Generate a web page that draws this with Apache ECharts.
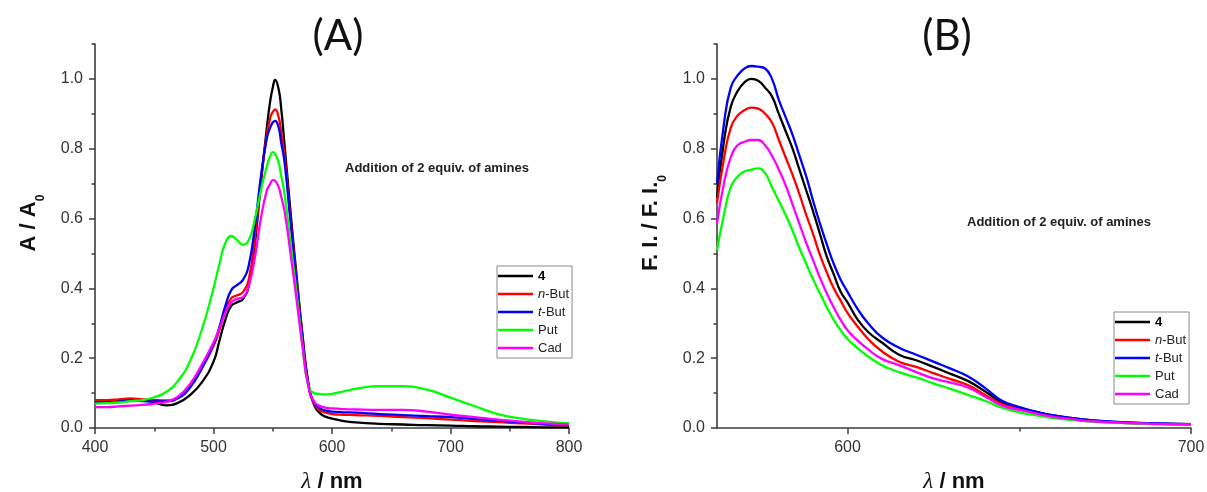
<!DOCTYPE html>
<html><head><meta charset="utf-8">
<script src="https://cdn.jsdelivr.net/npm/echarts@6/dist/echarts.min.js"></script>
<style>html,body{margin:0;padding:0;background:#fff}#c{width:1207px;height:492px}</style>
</head><body><div id="c"></div>
<script>
// ---- Panel A: absorbance (A / A0) ----
const wlA = [400,410,420,430,440,450,460,470,480,490,500,505,510,515,520,525,530,535,540,545,548,550,552,555,557,560,565,570,575,580,585,590,595,600,610,620,640,660,680,700,720,740,760,780,800];
const a4    = [0.075,0.077,0.079,0.082,0.080,0.073,0.065,0.072,0.094,0.13,0.19,0.25,0.31,0.35,0.36,0.37,0.41,0.53,0.70,0.86,0.94,0.975,0.997,0.97,0.92,0.81,0.62,0.44,0.27,0.13,0.065,0.042,0.032,0.027,0.02,0.016,0.012,0.01,0.008,0.007,0.005,0.004,0.003,0.002,0.002];
const aNBut = [0.08,0.08,0.082,0.085,0.082,0.08,0.079,0.088,0.12,0.17,0.235,0.28,0.335,0.372,0.38,0.39,0.43,0.55,0.71,0.84,0.89,0.905,0.913,0.89,0.85,0.78,0.60,0.43,0.265,0.125,0.068,0.05,0.044,0.04,0.038,0.037,0.035,0.031,0.028,0.024,0.02,0.017,0.013,0.01,0.008];
const aTBut = [0.072,0.073,0.075,0.078,0.077,0.076,0.076,0.085,0.115,0.17,0.24,0.29,0.35,0.395,0.41,0.425,0.47,0.58,0.72,0.83,0.862,0.875,0.88,0.86,0.82,0.76,0.59,0.42,0.26,0.125,0.072,0.056,0.05,0.047,0.045,0.044,0.04,0.037,0.034,0.031,0.026,0.021,0.016,0.011,0.008];
const aPut  = [0.07,0.071,0.073,0.077,0.08,0.088,0.103,0.135,0.19,0.28,0.40,0.47,0.53,0.55,0.538,0.525,0.54,0.60,0.68,0.75,0.78,0.79,0.785,0.76,0.725,0.67,0.53,0.39,0.24,0.12,0.10,0.097,0.096,0.098,0.105,0.112,0.12,0.12,0.11,0.087,0.063,0.04,0.027,0.019,0.013];
const aCad  = [0.06,0.06,0.062,0.064,0.066,0.07,0.075,0.09,0.125,0.18,0.245,0.285,0.33,0.36,0.37,0.375,0.41,0.49,0.60,0.68,0.70,0.71,0.708,0.69,0.665,0.62,0.50,0.37,0.235,0.12,0.075,0.063,0.058,0.056,0.054,0.053,0.052,0.052,0.047,0.038,0.031,0.024,0.018,0.013,0.01];

// ---- Panel B: fluorescence (F. I. / F. I.0) ----
const wlB = [562,564,566,568,570,572,574,576,578,580,582,584,586,588,590,592,594,596,598,600,603,606,610,615,620,625,630,635,640,645,650,655,660,665,670,680,690,700];
const f4    = [0.66,0.82,0.92,0.965,0.99,1.0,0.995,0.975,0.95,0.90,0.85,0.80,0.74,0.68,0.62,0.555,0.49,0.44,0.39,0.36,0.31,0.275,0.245,0.21,0.194,0.175,0.155,0.135,0.105,0.073,0.058,0.046,0.036,0.029,0.023,0.016,0.013,0.011];
const fNBut = [0.645,0.77,0.86,0.895,0.91,0.918,0.915,0.90,0.875,0.825,0.775,0.725,0.67,0.61,0.555,0.495,0.445,0.40,0.365,0.33,0.29,0.255,0.22,0.19,0.175,0.157,0.14,0.123,0.095,0.068,0.055,0.043,0.034,0.027,0.021,0.015,0.012,0.01];
const fTBut = [0.70,0.87,0.975,1.01,1.03,1.037,1.035,1.03,1.0,0.94,0.89,0.84,0.78,0.72,0.65,0.585,0.525,0.47,0.425,0.39,0.34,0.30,0.26,0.23,0.21,0.19,0.17,0.148,0.115,0.078,0.06,0.046,0.036,0.029,0.023,0.017,0.013,0.011];
const fPut  = [0.51,0.61,0.69,0.72,0.735,0.74,0.744,0.73,0.69,0.65,0.61,0.565,0.515,0.47,0.425,0.385,0.345,0.31,0.28,0.255,0.228,0.205,0.18,0.16,0.145,0.128,0.112,0.095,0.078,0.058,0.045,0.036,0.028,0.023,0.019,0.014,0.011,0.009];
const fCad  = [0.585,0.70,0.775,0.81,0.82,0.825,0.825,0.81,0.78,0.74,0.695,0.64,0.585,0.53,0.48,0.43,0.385,0.345,0.31,0.28,0.25,0.225,0.198,0.18,0.16,0.142,0.13,0.116,0.09,0.064,0.052,0.041,0.032,0.026,0.02,0.015,0.012,0.01];

const seriesNames = ['4','n-But','t-But','Put','Cad'];
const seriesColors = ['#000000','#ff0000','#0000ff','#00ff00','#ff00ff'];
const dataA = [a4,aNBut,aTBut,aPut,aCad];
const dataB = [f4,fNBut,fTBut,fPut,fCad];

const yMajor = [0,0.2,0.4,0.6,0.8,1.0];
const yMinor = [0.1,0.3,0.5,0.7,0.9,1.1];
const xbMajor = [600,700];
const xbMinor = [650];
const annotation = 'Addition of 2 equiv. of amines';

const FONT = '"Liberation Sans", Arial, sans-serif';
const AXC = '#3c3c3c';
const pairs = (x, y) => x.map((v, i) => [v, y[i]]);

const axisLineS = {lineStyle:{color:AXC, width:1.6}};
const labelS = {fontSize:16, color:'#333', fontFamily:FONT};
const nameRichX = {
  l:{fontSize:23, fontStyle:'italic', fontFamily:'"Liberation Serif", serif', color:'#111'},
  n:{fontSize:22, fontWeight:'bold', fontFamily:FONT, color:'#111'}
};
const nameRichY = {
  m:{fontSize:22, fontWeight:'bold', fontFamily:FONT, color:'#111', lineHeight:22, verticalAlign:'top'},
  s:{fontSize:12, fontWeight:'bold', fontFamily:FONT, color:'#111', lineHeight:12, verticalAlign:'top', padding:[17,0,0,0]}
};

function mainY(grid, name){
  return {gridIndex:grid, type:'value', position:'left', min:0, max:1.1,
    axisLine:{show:true, ...axisLineS}, splitLine:{show:false},
    axisTick:{show:true, length:6, customValues:yMajor, lineStyle:{color:AXC, width:1.5}},
    axisLabel:{...labelS, margin:12, customValues:yMajor, formatter:v=>v.toFixed(1)},
    name:name, nameLocation:'middle', nameRotate:90, nameGap:55,
    nameTextStyle:{rich:nameRichY, padding:[0,0,0,26]}};
}
function minorY(grid){
  return {gridIndex:grid, type:'value', position:'left', min:0, max:1.1,
    axisLine:{show:false}, splitLine:{show:false}, axisLabel:{show:false},
    axisTick:{show:true, length:3.5, customValues:yMinor, lineStyle:{color:AXC, width:1.5}}};
}
const xName = '{l|λ}{n| / nm}';

const legendCommon = {
  orient:'vertical', icon:'rect', itemWidth:35, itemHeight:2.5, itemGap:4,
  padding:[3,3,3,1], borderColor:'#8a8a8a', borderWidth:1, backgroundColor:'#fff',
  selectedMode:false, data:seriesNames,
  formatter: n => n==='4' ? '{b|4}' : n==='n-But' ? '{i|n}-But' : n==='t-But' ? '{i|t}-But' : n,
  textStyle:{fontSize:13, color:'#222', fontFamily:FONT, lineHeight:14,
    rich:{b:{fontSize:13, fontWeight:'bold', color:'#000', fontFamily:FONT},
          i:{fontSize:13, fontStyle:'italic', color:'#222', fontFamily:FONT}}}
};

const series = [];
seriesNames.forEach((n, i) => {
  const common = {type:'line', name:n, showSymbol:false, symbol:'none', smooth:0.5,
    color:seriesColors[i], itemStyle:{color:seriesColors[i]},
    lineStyle:{color:seriesColors[i], width:2.3}, silent:true};
  series.push({...common, xAxisIndex:0, yAxisIndex:0, data:pairs(wlA, dataA[i])});
  series.push({...common, xAxisIndex:1, yAxisIndex:2, data:pairs(wlB, dataB[i])});
});

const option = {
  animation:false,
  backgroundColor:'#fff',
  grid:[{left:95, top:44, width:474, height:384, outerBoundsMode:'none', containLabel:false},
        {left:717, top:44, width:474, height:384, outerBoundsMode:'none', containLabel:false}],
  xAxis:[
    {gridIndex:0, type:'value', position:'bottom', min:400, max:800, interval:100,
     axisLine:axisLineS, splitLine:{show:false},
     axisTick:{length:6, lineStyle:{color:AXC, width:1.5}},
     minorTick:{show:true, splitNumber:2, length:3.5, lineStyle:{color:AXC, width:1.5}},
     axisLabel:{...labelS, margin:12},
     name:xName, nameLocation:'middle', nameGap:42, nameTextStyle:{rich:nameRichX}},
    {gridIndex:1, type:'value', position:'bottom', min:562, max:700,
     axisLine:axisLineS, splitLine:{show:false},
     axisTick:{length:6, customValues:xbMajor, lineStyle:{color:AXC, width:1.5}},
     axisLabel:{...labelS, margin:12, customValues:xbMajor},
     name:xName, nameLocation:'middle', nameGap:42, nameTextStyle:{rich:nameRichX}},
    {gridIndex:1, type:'value', position:'bottom', min:562, max:700,
     axisLine:{show:false}, splitLine:{show:false}, axisLabel:{show:false},
     axisTick:{length:3.5, customValues:xbMinor, lineStyle:{color:AXC, width:1.5}}}
  ],
  yAxis:[
    mainY(0, '{m|A / A}{s|0}'),
    minorY(0),
    mainY(1, '{m|F. I. / F. I.}{s|0}'),
    minorY(1)
  ],
  legend:[
    {...legendCommon, left:497, top:266},
    {...legendCommon, left:1114, top:312}
  ],
  graphic:[
    {type:'text', x:338, y:36, style:{text:'(A)', font:'normal 42px Lato, "Open Sans", sans-serif', fill:'#111', align:'center', verticalAlign:'middle'}},
    {type:'text', x:947, y:36, style:{text:'(B)', font:'normal 42px Lato, "Open Sans", sans-serif', fill:'#111', align:'center', verticalAlign:'middle'}},
    {type:'text', x:345, y:168, style:{text:annotation, font:'bold 13px "Liberation Sans", Arial, sans-serif', fill:'#222', align:'left', verticalAlign:'middle'}},
    {type:'text', x:967, y:222, style:{text:annotation, font:'bold 13px "Liberation Sans", Arial, sans-serif', fill:'#222', align:'left', verticalAlign:'middle'}}
  ],
  series:series
};
const chart = echarts.init(document.getElementById('c'), null, {renderer:'canvas'});
chart.setOption(option);
</script></body></html>
